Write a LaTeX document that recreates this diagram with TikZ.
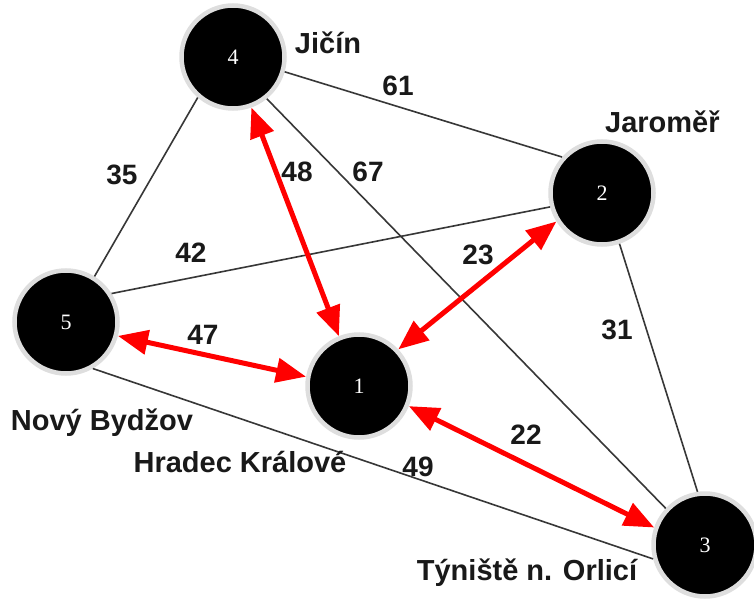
\documentclass[tikz,border=0pt]{standalone}
\usepackage{fontspec}
\setmainfont{Liberation Sans}
\newfontfamily\numfont{Liberation Serif}
\usetikzlibrary{arrows.meta}
\definecolor{ringgray}{RGB}{222,222,222}
\definecolor{roadgray}{RGB}{55,55,55}
\definecolor{txt}{RGB}{25,25,25}
\begin{document}
\begin{tikzpicture}[x=1pt,y=-1pt,
  city/.style={circle, fill=black, draw=ringgray, line width=4.5pt, minimum size=103pt,
    inner sep=0pt, text=white, font=\numfont\fontsize{22}{22}\selectfont},
  road/.style={draw=roadgray, line width=1.6pt},
  route/.style={draw=red, line width=5pt,
    {Triangle[length=30pt,width=24pt]}-{Triangle[length=30pt,width=24pt]}},
  wlabel/.style={text=txt, font=\bfseries\fontsize{28}{28}\selectfont, inner sep=0pt},
  place/.style={text=txt, font=\bfseries\fontsize{29}{29}\selectfont, inner sep=0pt}]
\useasboundingbox (0,0) rectangle (754,604);
\fill[white] (0,0) rectangle (754,604);

% cities
\node[city] (n4) at (233,57) {4};
\node[city] (n2) at (602,193) {2};
\node[city] (n5) at (66,322) {5};
\node[city] (n1) at (359,386) {1};
\node[city] (n3) at (705,545) {3};

% roads
\draw[road] (n4.-16) -- (n2.138);
\draw[road] (n4.229) -- (n5.58);
\draw[road] (n4.-51) -- (n3.137);
\draw[road] (n5.32) -- (n2.195);
\draw[road] (n5.-60) -- (n3.195);
\draw[road] (n2.-71) -- (n3.98);

% routes
\draw[route] (n4.-70) -- (n1.112);
\draw[route] (n5.-15) -- (n1.170);
\draw[route] (n1.43) -- (n2.212);
\draw[route] (n1.-22) -- (n3.161);

% weights
\node[wlabel] (w61) at (398,86) {61};
\node[wlabel] (w35) at (122,175) {35};
\node[wlabel] (w48) at (297,172) {48};
\node[wlabel] (w67) at (368,172) {67};
\node[wlabel] (w42) at (191,253) {42};
\node[wlabel] (w47) at (203,335) {47};
\node[wlabel] (w23) at (478,255) {23};
\node[wlabel] (w31) at (617,330) {31};
\node[wlabel] (w22) at (526,435) {22};
\node[wlabel] (w49) at (418,467) {49};

% place names
\node[place] (pJ) at (328,43) {Jičín};
\node[place, anchor=west] (pJa) at (605,122) {Jaroměř};
\node[place] (pN) at (102,423) {Nový Bydžov};
\node[place] (pH) at (240,462) {Hradec Králové};
\node[place] (pT) at (527,573) {Týniště n. Orlicí};
\end{tikzpicture}
\end{document}
